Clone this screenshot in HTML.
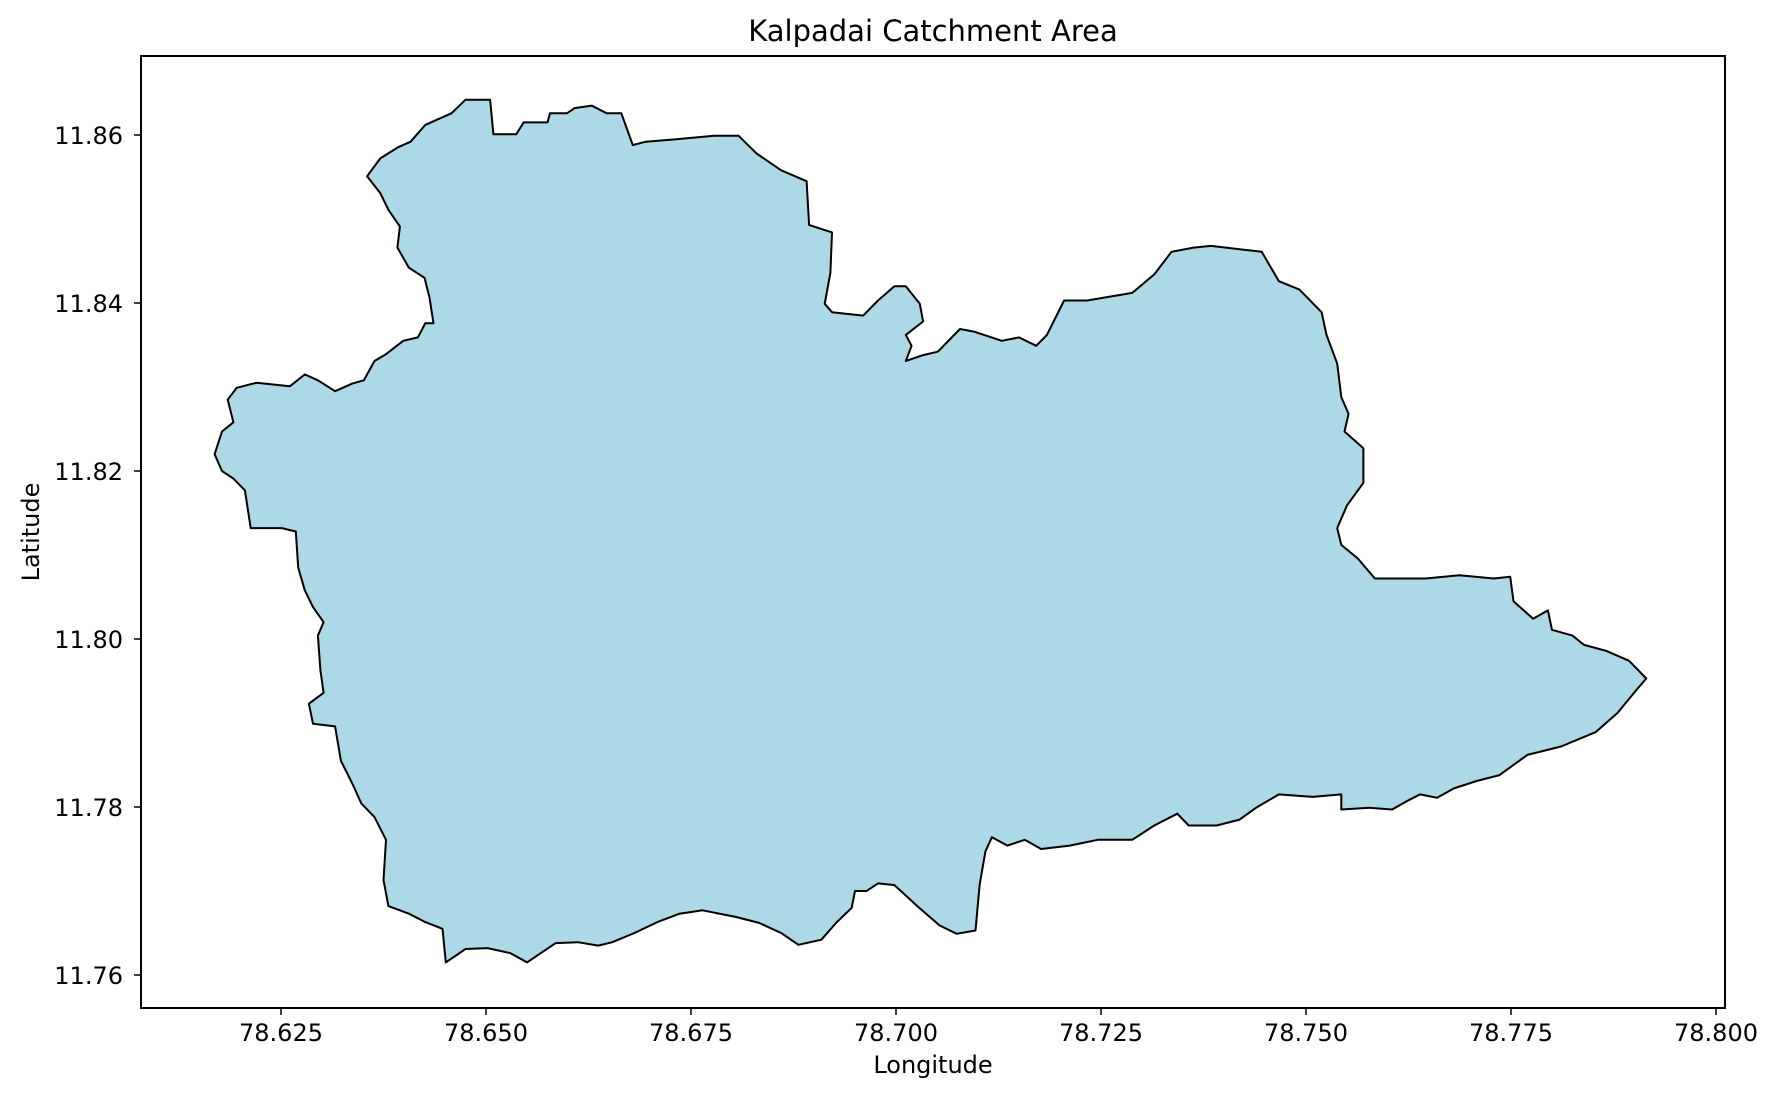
<!DOCTYPE html>
<html><head><meta charset="utf-8"><style>
body{margin:0;background:#fff;}
svg{display:block;font-family:"DejaVu Sans","Liberation Sans",sans-serif;}
</style></head><body>
<svg width="1780" height="1101" viewBox="0 0 1780 1101">
<rect width="1780" height="1101" fill="#fff"/>
<text x="933" y="41" text-anchor="middle" font-size="29">Kalpadai Catchment Area</text>
<g id="plot"></g>
<rect x="141" y="56" width="1584" height="952" fill="none" stroke="#000" stroke-width="2"/>
<g id="ticks"></g>
<text x="933" y="1073" text-anchor="middle" font-size="24">Longitude</text>
<text transform="translate(39,532) rotate(-90)" text-anchor="middle" font-size="24">Latitude</text>
</svg>
<script>
const lons=[78.6355,78.6371,78.6392,78.6408,78.6426,78.6458,78.6475,78.6505,78.6509,78.6537,78.6546,78.6575,78.6578,78.6599,78.6608,78.6629,78.6647,78.6665,78.6679,78.6695,78.6732,78.6778,78.6808,78.6830,78.6860,78.6891,78.6894,78.6922,78.6920,78.6913,78.6922,78.6960,78.6978,78.6998,78.7012,78.7029,78.7033,78.7012,78.7019,78.7012,78.7033,78.7051,78.7078,78.7095,78.7129,78.7150,78.7171,78.7184,78.7205,78.7233,78.7288,78.7315,78.7336,78.7363,78.7384,78.7419,78.7446,78.7467,78.7492,78.7519,78.7525,78.7538,78.7543,78.7552,78.7547,78.7570,78.7570,78.7550,78.7538,78.7543,78.7563,78.7584,78.7646,78.7687,78.7729,78.7749,78.7753,78.7777,78.7795,78.7800,78.7825,78.7839,78.7866,78.7894,78.7915,78.7901,78.7880,78.7853,78.7811,78.7770,78.7736,78.7708,78.7680,78.7660,78.7639,78.7625,78.7605,78.7577,78.7543,78.7543,78.7508,78.7467,78.7439,78.7419,78.7391,78.7357,78.7343,78.7315,78.7288,78.7246,78.7212,78.7177,78.7157,78.7136,78.7117,78.7109,78.7102,78.7097,78.7074,78.7053,78.7026,78.6998,78.6978,78.6964,78.6950,78.6946,78.6927,78.6909,78.6881,78.6860,78.6833,78.6805,78.6764,78.6736,78.6709,78.6681,78.6654,78.6637,78.6612,78.6585,78.6550,78.6530,78.6502,78.6475,78.6451,78.6447,78.6426,78.6406,78.6381,78.6375,78.6378,78.6364,78.6348,78.6337,78.6323,78.6316,78.6289,78.6284,78.6302,78.6298,78.6295,78.6302,78.6289,78.6279,78.6271,78.6268,78.6251,78.6213,78.6206,78.6192,78.6178,78.6169,78.6178,78.6192,78.6185,78.6196,78.6220,78.6261,78.6279,78.6295,78.6316,78.6337,78.6351,78.6364,78.6378,78.6399,78.6417,78.6426,78.6436,78.6431,78.6425,78.6406,78.6392,78.6395,78.6381,78.6371];
const lats=[11.8551,11.8572,11.8585,11.8592,11.8612,11.8626,11.8642,11.8642,11.8601,11.8601,11.8615,11.8615,11.8626,11.8626,11.8632,11.8635,11.8626,11.8626,11.8588,11.8592,11.8595,11.8599,11.8599,11.8578,11.8558,11.8545,11.8493,11.8484,11.8436,11.8399,11.8389,11.8385,11.8403,11.8420,11.8420,11.8399,11.8378,11.8362,11.8349,11.8331,11.8338,11.8342,11.8369,11.8366,11.8355,11.8359,11.8349,11.8362,11.8403,11.8403,11.8412,11.8434,11.8461,11.8466,11.8468,11.8464,11.8461,11.8426,11.8416,11.8389,11.8362,11.8328,11.8288,11.8268,11.8247,11.8227,11.8186,11.8159,11.8132,11.8112,11.8096,11.8072,11.8072,11.8076,11.8072,11.8074,11.8045,11.8024,11.8034,11.8011,11.8004,11.7993,11.7986,11.7974,11.7953,11.7937,11.7912,11.7889,11.7872,11.7862,11.7838,11.7831,11.7822,11.7811,11.7815,11.7808,11.7797,11.7799,11.7797,11.7815,11.7812,11.7815,11.7799,11.7785,11.7778,11.7778,11.7792,11.7778,11.7761,11.7761,11.7754,11.7750,11.7761,11.7754,11.7764,11.7747,11.7707,11.7653,11.7649,11.7659,11.7682,11.7707,11.7709,11.7700,11.7700,11.7680,11.7662,11.7642,11.7636,11.7650,11.7662,11.7669,11.7677,11.7673,11.7663,11.7650,11.7639,11.7635,11.7639,11.7638,11.7615,11.7626,11.7632,11.7631,11.7615,11.7655,11.7663,11.7673,11.7682,11.7713,11.7761,11.7788,11.7804,11.7828,11.7855,11.7896,11.7899,11.7923,11.7936,11.7963,11.8004,11.8020,11.8038,11.8058,11.8085,11.8128,11.8132,11.8132,11.8177,11.8191,11.8200,11.8220,11.8247,11.8258,11.8285,11.8299,11.8305,11.8301,11.8315,11.8308,11.8295,11.8304,11.8308,11.8331,11.8339,11.8355,11.8359,11.8376,11.8376,11.8407,11.8430,11.8442,11.8466,11.8491,11.8511,11.8531];
const xTicks=["78.625","78.650","78.675","78.700","78.725","78.750","78.775","78.800"];
const yTicks=["11.76","11.78","11.80","11.82","11.84","11.86"];
const NS="http://www.w3.org/2000/svg";
function xs(lon){return 281+(lon-78.625)*8200;}
function ys(lat){return 975-(lat-11.76)*8400;}
const plot=document.getElementById('plot');
const poly=document.createElementNS(NS,'polygon');


poly.setAttribute('points',lons.map((l,i)=>xs(l).toFixed(1)+','+ys(lats[i]).toFixed(1)).join(' '));
poly.setAttribute('fill','#add8e6');poly.setAttribute('stroke','#000');poly.setAttribute('stroke-width','2');poly.setAttribute('stroke-linejoin','round');
plot.appendChild(poly);
const tg=document.getElementById('ticks');
xTicks.forEach(t=>{const x=xs(parseFloat(t));
 const l=document.createElementNS(NS,'line');
 
 
 l.setAttribute('x1',x);l.setAttribute('x2',x);l.setAttribute('y1',1008);l.setAttribute('y2',1015);l.setAttribute('stroke','#000');l.setAttribute('stroke-width','1.5');tg.appendChild(l);
 const tx=document.createElementNS(NS,'text');
 
 
 tx.setAttribute('x',x);tx.setAttribute('y',1041);tx.setAttribute('text-anchor','middle');tx.setAttribute('font-size','24');tx.textContent=t;tg.appendChild(tx);});
yTicks.forEach(t=>{const y=ys(parseFloat(t));
 const l=document.createElementNS(NS,'line');
 
 
 l.setAttribute('x1',134);l.setAttribute('x2',141);l.setAttribute('y1',y);l.setAttribute('y2',y);l.setAttribute('stroke','#000');l.setAttribute('stroke-width','1.5');tg.appendChild(l);
 const tx=document.createElementNS(NS,'text');
 
 
 tx.setAttribute('x',123);tx.setAttribute('y',y+9);tx.setAttribute('text-anchor','end');tx.setAttribute('font-size','24');tx.textContent=t;tg.appendChild(tx);});
</script>
</body></html>
